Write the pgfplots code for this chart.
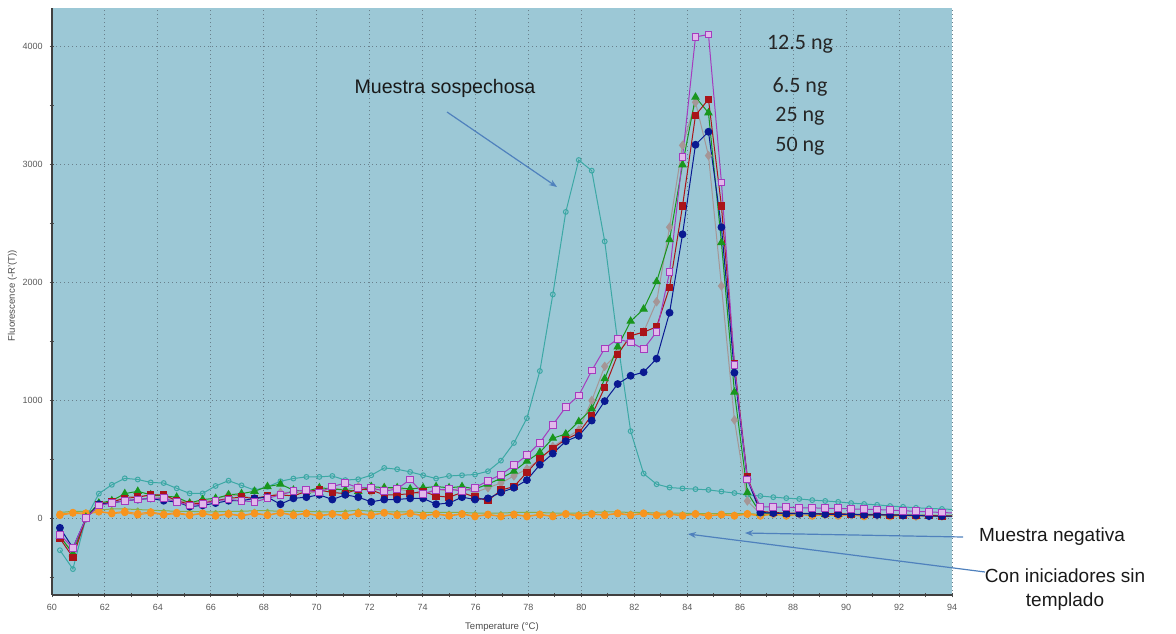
\documentclass[border=0pt]{standalone}
\usepackage{fontspec}
\setmainfont{Liberation Sans}
\newfontfamily\calibri{Carlito}
\usepackage{pgfplots}
\usepackage{pgfplotstable}
\pgfplotsset{compat=1.18}
\usetikzlibrary{arrows.meta}

\definecolor{plotbg}{RGB}{156,200,214}
\definecolor{gridc}{RGB}{105,128,140}
\definecolor{cteal}{RGB}{60,168,165}
\definecolor{cpurple}{RGB}{165,60,190}
\definecolor{cpurplefill}{RGB}{225,185,235}
\definecolor{cgreen}{RGB}{25,150,30}
\definecolor{cred}{RGB}{170,20,25}
\definecolor{cgray}{RGB}{165,150,150}
\definecolor{cblue}{RGB}{10,25,145}
\definecolor{corange}{RGB}{247,148,30}
\definecolor{colive}{RGB}{140,175,70}
\definecolor{carrow}{RGB}{79,129,189}

\pgfplotstableread{
x teal purple green red gray blue orA orB olive
60.30 -270 -140 -150 -170 -160 -80 35 25 50
60.79 -430 -250 -300 -330 -280 -250 50 45 60
61.28 0 0 10 0 0 0 45 35 60
61.77 210 110 130 120 120 120 60 55 70
62.26 285 130 150 140 140 130 45 40 80
62.75 340 150 210 170 180 150 60 50 80
63.24 330 160 230 180 190 160 40 30 75
63.73 305 170 200 200 190 170 55 45 70
64.22 300 170 190 200 170 150 35 30 65
64.71 255 140 180 150 160 140 50 40 60
65.20 212 110 130 120 130 100 30 25 60
65.69 212 120 160 130 140 110 45 40 55
66.18 275 150 170 150 160 130 25 20 55
66.67 320 160 200 170 200 150 40 35 60
67.16 280 150 210 180 190 150 25 20 60
67.65 240 140 230 170 170 170 45 40 65
68.14 268 170 270 190 180 180 30 25 65
68.63 315 200 290 200 220 120 50 45 60
69.12 338 230 240 190 220 170 30 25 60
69.61 352 240 230 230 210 180 45 40 60
70.10 352 220 260 240 230 200 25 20 55
70.59 360 270 250 220 260 160 40 35 55
71.08 325 300 240 210 240 200 25 20 60
71.57 332 260 230 250 270 180 45 40 70
72.06 366 260 270 240 230 140 30 25 60
72.55 428 230 260 200 260 160 50 45 55
73.04 417 250 260 200 250 160 30 25 55
73.53 394 330 250 210 230 170 45 40 55
74.02 366 210 260 230 200 170 25 20 50
74.51 338 240 270 190 250 120 40 35 50
75.00 360 250 260 180 230 130 25 20 50
75.49 366 230 270 220 260 180 40 35 50
75.98 372 260 250 180 220 160 20 15 45
76.47 400 320 290 150 260 170 35 30 45
76.96 490 370 340 240 300 220 20 15 45
77.45 640 450 400 270 360 260 35 30 50
77.94 850 535 485 390 420 325 20 15 50
78.43 1250 642 560 510 500 455 35 30 50
78.92 1900 794 680 595 610 550 20 15 45
79.41 2600 944 716 670 680 655 40 35 45
79.90 3040 1042 821 725 750 700 25 20 45
80.39 2950 1254 929 875 1000 830 40 35 50
80.88 2350 1442 1185 1110 1290 995 30 25 55
81.37 1500 1521 1455 1390 1400 1140 45 40 55
81.86 740 1493 1673 1550 1548 1210 30 25 50
82.35 380 1437 1776 1580 1582 1240 45 40 50
82.84 290 1582 2008 1625 1838 1355 30 25 45
83.33 262 2088 2364 1960 2470 1745 40 35 45
83.82 254 3064 3000 2650 3165 2410 25 20 45
84.31 248 4085 3574 3420 3530 3170 40 35 40
84.80 242 4105 3441 3555 3078 3280 25 20 40
85.29 228 2850 2340 2650 1972 2470 35 30 40
85.78 215 1300 1071 1310 835 1236 25 20 40
86.27 200 330 219 350 148 332 40 35 40
86.76 190 100 45 60 40 50 25 20 35
87.25 180 95 45 50 40 45 40 35 35
87.74 172 95 40 45 40 40 25 20 35
88.23 165 90 40 45 35 40 40 35 35
88.72 155 90 40 40 35 40 25 20 35
89.21 148 85 35 40 35 35 35 30 30
89.70 140 85 35 40 30 35 25 20 30
90.19 130 80 35 35 30 35 35 30 30
90.68 122 78 30 35 30 30 20 15 30
91.17 115 75 30 35 25 30 35 30 30
91.66 105 70 30 30 25 30 20 15 30
92.15 98 65 25 30 25 25 30 25 25
92.64 90 60 25 25 20 25 20 15 25
93.13 85 55 25 25 20 20 30 25 25
93.62 80 50 20 20 20 20 20 15 25
94.11 75 45 20 20 15 20 25 20 25
}\datatable

\begin{document}
\begin{tikzpicture}
\path[use as bounding box] (-26pt,-19pt) rectangle (562pt,297.5pt);
\begin{axis}[
  at={(0pt,0pt)}, anchor=south west,
  scale only axis, width=450pt, height=293.5pt,
  xmin=60, xmax=94, ymin=-650, ymax=4330,
  axis x line*=bottom, axis y line*=left,
  axis line style={draw=black!75, line width=0.6pt},
  axis background/.style={fill=plotbg},
  xtick={60,62,...,94}, ytick={0,1000,2000,3000,4000},
  minor xtick={61,63,...,93}, minor ytick={-500,500,1500,2500,3500},
  tick align=center, major tick length=2.4pt, minor tick length=2.4pt,
  every tick/.style={black!70, line width=0.5pt},
  grid=major,
  major grid style={gridc, line width=0.5pt, dash pattern=on 0.7pt off 1.3pt},
  minor grid style={draw=none},
  tick label style={font=\fontsize{4.5}{5}\selectfont, text=black!65},
  /pgf/number format/assume math mode=true,
  /pgf/number format/1000 sep={},
  xlabel={Temperature (°C)}, ylabel={Fluorescence (-R'(T))},
  label style={font=\fontsize{4.8}{5.5}\selectfont, text=black!70},
  xlabel style={at={(axis description cs:0.5,-0.055)}, anchor=center},
  ylabel style={at={(axis description cs:-0.044,0.51)}, anchor=center},
  every axis plot/.append style={line width=0.5pt},
]
\addplot[colive, mark=*, mark size=0.7pt] table[x=x, y=olive] {\datatable};
\addplot[corange, mark=*, mark size=1.6pt] table[x=x, y=orB] {\datatable};
\addplot[corange, mark=*, mark size=1.6pt] table[x=x, y=orA] {\datatable};
\addplot[cteal, mark=o, mark size=1.2pt] table[x=x, y=teal] {\datatable};
\addplot[cgray, mark=diamond*, mark size=2pt] table[x=x, y=gray] {\datatable};
\addplot[cgreen, mark=triangle*, mark size=2pt] table[x=x, y=green] {\datatable};
\addplot[cred, mark=square*, mark size=1.6pt] table[x=x, y=red] {\datatable};
\addplot[cblue, mark=*, mark size=1.7pt] table[x=x, y=blue] {\datatable};
\addplot[cpurple, mark=square*, mark size=1.7pt, mark options={fill=cpurplefill, draw=cpurple}] table[x=x, y=purple] {\datatable};
\end{axis}

\node[font=\fontsize{9.8}{11}\selectfont, text=black!90] at (196.5pt,253.5pt) {Muestra sospechosa};
\draw[carrow, line width=0.6pt, -{Stealth[length=4pt,width=3pt]}] (197.5pt,241.5pt) -- (252.5pt,204pt);

\node[font=\calibri\fontsize{11}{12}\selectfont, text=black!85] at (374pt,275.5pt) {12.5 ng};
\node[font=\calibri\fontsize{11}{12}\selectfont, text=black!85] at (374pt,254pt) {6.5 ng};
\node[font=\calibri\fontsize{11}{12}\selectfont, text=black!85] at (374pt,239.5pt) {25 ng};
\node[font=\calibri\fontsize{11}{12}\selectfont, text=black!85] at (374pt,224.5pt) {50 ng};

\node[font=\fontsize{9.5}{11}\selectfont, text=black!90] at (500pt,29pt) {Muestra negativa};
\draw[carrow, line width=0.6pt, -{Stealth[length=4pt,width=3pt]}] (455.5pt,29pt) -- (346.5pt,31pt);

\node[font=\fontsize{9.5}{12}\selectfont, text=black!90, align=center] at (506.5pt,2.5pt) {Con iniciadores sin\\templado};
\draw[carrow, line width=0.6pt, -{Stealth[length=4pt,width=3pt]}] (466.5pt,11.5pt) -- (318pt,30.5pt);
\end{tikzpicture}
\end{document}
